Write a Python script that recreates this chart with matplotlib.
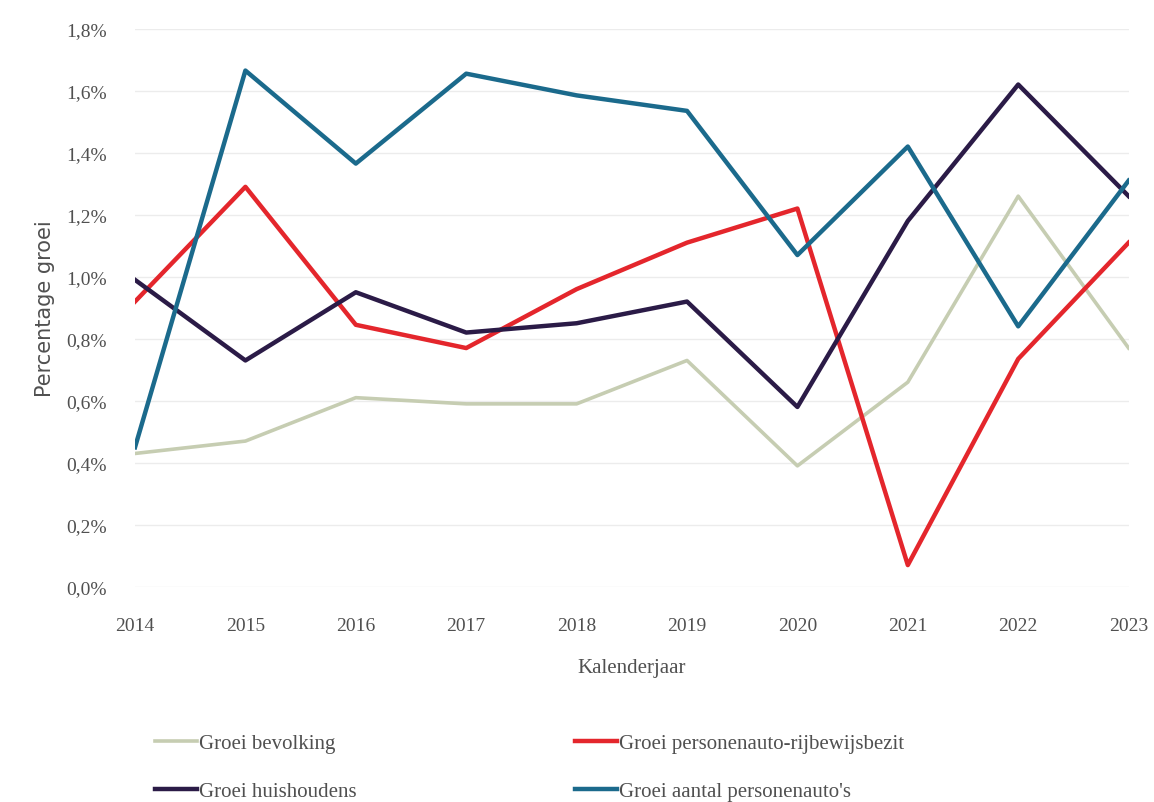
import matplotlib.pyplot as plt

# data (percent growth per year)
years = [2014, 2015, 2016, 2017, 2018, 2019, 2020, 2021, 2022, 2023]
bevolking = [0.43, 0.47, 0.61, 0.59, 0.59, 0.73, 0.39, 0.66, 1.26, 0.77]
rijbewijs = [0.92, 1.29, 0.845, 0.77, 0.96, 1.11, 1.22, 0.07, 0.735, 1.11]
huishoudens = [0.99, 0.73, 0.95, 0.82, 0.85, 0.92, 0.58, 1.18, 1.62, 1.26]
autos = [0.45, 1.665, 1.365, 1.655, 1.585, 1.535, 1.07, 1.42, 0.84, 1.31]
yticks = [0.0, 0.2, 0.4, 0.6, 0.8, 1.0, 1.2, 1.4, 1.6, 1.8]

fig = plt.figure(figsize=(11.54, 8.03), dpi=100)
ax = fig.add_axes([0.117, 0.268, 0.861, 0.695])

l1, = ax.plot(years, bevolking, color="#c6cdb2", lw=2.6, label="Groei bevolking")
l2, = ax.plot(years, rijbewijs, color="#e4262c", lw=3.2, label="Groei personenauto-rijbewijsbezit")
l3, = ax.plot(years, huishoudens, color="#2b1b47", lw=3.2, label="Groei huishoudens")
l4, = ax.plot(years, autos, color="#1b6a8c", lw=3.2, label="Groei aantal personenauto's")

ax.set_xlim(2014, 2023)
ax.set_ylim(0, 1.8)
ax.set_xticks(years)
ax.set_yticks(yticks)
ax.set_yticklabels([("%.1f%%" % v).replace(".", ",") for v in yticks])
ax.yaxis.grid(True, color="#ececec", lw=1)
ax.set_axisbelow(True)
for s in ax.spines.values():
    s.set_visible(False)
ax.tick_params(length=0, labelsize=14, labelcolor="#505050")
ax.tick_params(axis="x", pad=22)
ax.tick_params(axis="y", pad=20)
for lab in ax.get_xticklabels() + ax.get_yticklabels():
    lab.set_family("Liberation Serif")

ax.set_xlabel("Kalenderjaar", fontsize=15, color="#505050", family="Liberation Serif", labelpad=17)
ax.set_ylabel("Percentage groei", fontsize=15, color="#505050", labelpad=8)

# legend: two columns, filled column-wise
fig.legend([l1, l3, l2, l4], [l1.get_label(), l3.get_label(), l2.get_label(), l4.get_label()],
           ncol=2, loc="lower left", bbox_to_anchor=(0.118, -0.022), frameon=False,
           handlelength=2.0, handletextpad=0.1, columnspacing=10.5,
           labelspacing=1.35, prop={"family": "Liberation Serif", "size": 15})
for t in fig.legends[0].get_texts():
    t.set_color("#505050")

fig.savefig("out.png", dpi=100)
